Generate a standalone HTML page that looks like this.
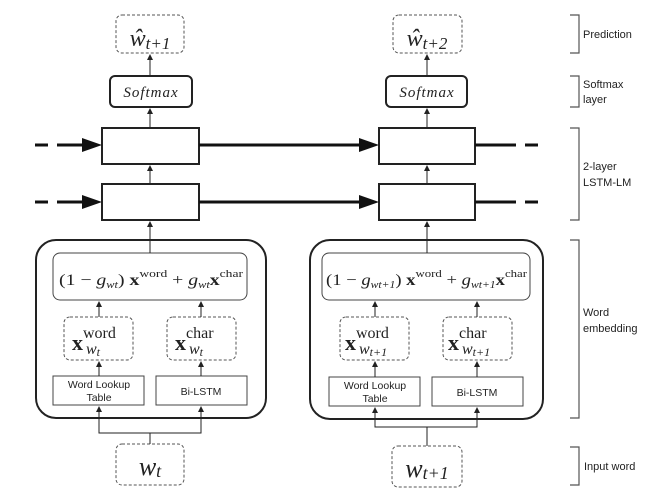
<!DOCTYPE html>
<html><head><meta charset="utf-8"><style>
body{margin:0;background:#fff;width:669px;height:499px;overflow:hidden}
svg{display:block}
.m{font-family:"Liberation Serif",serif;fill:#222}
.s{font-family:"Liberation Sans",sans-serif;fill:#222}
</style></head><body>
<svg width="669" height="499" viewBox="0 0 669 499">
<defs>
<marker id="a" markerWidth="6" markerHeight="6" refX="5" refY="3" orient="auto"><path d="M0,0 L6,3 L0,6z" fill="#222"/></marker>
</defs>
<g stroke="#222" fill="none">
<rect x="116" y="15" width="68" height="38" rx="6" stroke-dasharray="3,2" stroke="#555"/>
<rect x="110" y="76" width="82" height="31" rx="5" stroke-width="2"/>
<rect x="102" y="128" width="97" height="36" stroke-width="2"/>
<rect x="102" y="184" width="97" height="36" stroke-width="2"/>
<rect x="36" y="240" width="230" height="178" rx="20" stroke-width="2"/>
<rect x="53" y="253" width="194" height="47" rx="7" stroke="#444"/>
<rect x="64" y="317" width="69" height="43" rx="6" stroke-dasharray="3,2" stroke="#555"/>
<rect x="167" y="317" width="69" height="43" rx="6" stroke-dasharray="3,2" stroke="#555"/>
<rect x="53" y="376" width="91" height="29" stroke="#444"/>
<rect x="156" y="376" width="91" height="29" stroke="#444"/>
<rect x="116" y="444" width="68" height="41" rx="6" stroke-dasharray="3,2" stroke="#555"/>
<line x1="150" y1="76" x2="150" y2="55" marker-end="url(#a)"/>
<line x1="150" y1="128" x2="150" y2="109" marker-end="url(#a)"/>
<line x1="150" y1="184" x2="150" y2="166" marker-end="url(#a)"/>
<line x1="150" y1="253" x2="150" y2="222" marker-end="url(#a)"/>
<line x1="99" y1="317" x2="99" y2="302" marker-end="url(#a)"/>
<line x1="201" y1="317" x2="201" y2="302" marker-end="url(#a)"/>
<line x1="99" y1="376" x2="99" y2="362" marker-end="url(#a)"/>
<line x1="201" y1="376" x2="201" y2="362" marker-end="url(#a)"/>
<polyline points="150,444 150,433 99,433 99,407" marker-end="url(#a)"/>
<polyline points="150,433 201,433 201,407" marker-end="url(#a)"/>
</g>
<g stroke="#222" fill="none">
<rect x="393" y="15" width="69" height="38" rx="6" stroke-dasharray="3,2" stroke="#555"/>
<rect x="386" y="76" width="81" height="31" rx="5" stroke-width="2"/>
<rect x="379" y="128" width="96" height="36" stroke-width="2"/>
<rect x="379" y="184" width="96" height="36" stroke-width="2"/>
<rect x="310" y="240" width="233" height="179" rx="20" stroke-width="2"/>
<rect x="322" y="253" width="208" height="47" rx="7" stroke="#444"/>
<rect x="340" y="317" width="69" height="43" rx="6" stroke-dasharray="3,2" stroke="#555"/>
<rect x="443" y="317" width="69" height="43" rx="6" stroke-dasharray="3,2" stroke="#555"/>
<rect x="329" y="377" width="91" height="29" stroke="#444"/>
<rect x="432" y="377" width="91" height="29" stroke="#444"/>
<rect x="392" y="446" width="70" height="41" rx="6" stroke-dasharray="3,2" stroke="#555"/>
<line x1="427" y1="76" x2="427" y2="55" marker-end="url(#a)"/>
<line x1="427" y1="128" x2="427" y2="109" marker-end="url(#a)"/>
<line x1="427" y1="184" x2="427" y2="166" marker-end="url(#a)"/>
<line x1="427" y1="253" x2="427" y2="222" marker-end="url(#a)"/>
<line x1="375" y1="317" x2="375" y2="302" marker-end="url(#a)"/>
<line x1="477" y1="317" x2="477" y2="302" marker-end="url(#a)"/>
<line x1="375" y1="377" x2="375" y2="362" marker-end="url(#a)"/>
<line x1="477" y1="377" x2="477" y2="362" marker-end="url(#a)"/>
<polyline points="427,446 427,427 375,427 375,408" marker-end="url(#a)"/>
<polyline points="427,427 477,427 477,408" marker-end="url(#a)"/>
</g>
<g stroke="#111" stroke-width="3" fill="none">
<line x1="35" y1="145" x2="48" y2="145"/><line x1="57" y1="145" x2="85" y2="145"/>
<line x1="35" y1="202" x2="48" y2="202"/><line x1="57" y1="202" x2="85" y2="202"/>
<line x1="199" y1="145" x2="362" y2="145"/>
<line x1="199" y1="202" x2="362" y2="202"/>
<line x1="475" y1="145" x2="516" y2="145"/><line x1="525" y1="145" x2="538" y2="145"/>
<line x1="475" y1="202" x2="516" y2="202"/><line x1="525" y1="202" x2="538" y2="202"/>
</g>
<g fill="#111">
<path d="M82,138 L102,145 L82,152z"/><path d="M82,195 L102,202 L82,209z"/>
<path d="M359,138 L379,145 L359,152z"/><path d="M359,195 L379,202 L359,209z"/>
</g>
<g stroke="#555" fill="none" stroke-width="1.2">
<polyline points="570,15 579,15 579,53 570,53"/>
<polyline points="570,76 579,76 579,107 570,107"/>
<polyline points="570,128 579,128 579,220 570,220"/>
<polyline points="570,240 579,240 579,418 570,418"/>
<polyline points="570,447 579,447 579,485 570,485"/>
</g>
<g class="s" font-size="11">
<text x="583" y="38">Prediction</text>
<text x="583" y="88">Softmax</text><text x="583" y="103">layer</text>
<text x="583" y="170">2-layer</text><text x="583" y="186">LSTM-LM</text>
<text x="583" y="316">Word</text><text x="583" y="332">embedding</text>
<text x="584" y="470">Input word</text>
</g>
<g class="s" font-size="10.5" text-anchor="middle">
<text x="99" y="388">Word Lookup</text><text x="99" y="401">Table</text>
<text x="201" y="395">Bi-LSTM</text>
<text x="375" y="389">Word Lookup</text><text x="375" y="402">Table</text>
<text x="477" y="396">Bi-LSTM</text>
</g>
<g class="m">
<text x="150" y="46" font-size="24" text-anchor="middle" font-style="italic">ŵ<tspan font-size="17" dy="3">t+1</tspan></text>
<text x="427" y="46" font-size="24" text-anchor="middle" font-style="italic">ŵ<tspan font-size="17" dy="3">t+2</tspan></text>
<text x="151" y="97" font-size="15" text-anchor="middle" font-style="italic" letter-spacing="1">Softmax</text>
<text x="427" y="97" font-size="15" text-anchor="middle" font-style="italic" letter-spacing="1">Softmax</text>
<text x="150" y="475" font-size="26" text-anchor="middle" font-style="italic">w<tspan font-size="18" dy="2">t</tspan></text>
<text x="427" y="477" font-size="26" text-anchor="middle" font-style="italic">w<tspan font-size="18" dy="2">t+1</tspan></text>
<text x="59" y="285" font-size="16" textLength="184" lengthAdjust="spacingAndGlyphs">(1 − <tspan font-style="italic">g</tspan><tspan font-size="10" font-style="italic" dy="3">wt</tspan><tspan dy="-3">) </tspan><tspan font-weight="bold">x</tspan><tspan font-size="11" dy="-8">word</tspan><tspan dy="8"> + </tspan><tspan font-style="italic">g</tspan><tspan font-size="10" font-style="italic" dy="3">wt</tspan><tspan font-weight="bold" dy="-3">x</tspan><tspan font-size="11" dy="-8">char</tspan></text>
<text x="326" y="285" font-size="16" textLength="201" lengthAdjust="spacingAndGlyphs">(1 − <tspan font-style="italic">g</tspan><tspan font-size="10" font-style="italic" dy="3">wt+1</tspan><tspan dy="-3">) </tspan><tspan font-weight="bold">x</tspan><tspan font-size="11" dy="-8">word</tspan><tspan dy="8"> + </tspan><tspan font-style="italic">g</tspan><tspan font-size="10" font-style="italic" dy="3">wt+1</tspan><tspan font-weight="bold" dy="-3">x</tspan><tspan font-size="11" dy="-8">char</tspan></text>
<text x="72" y="350" font-size="22" font-weight="bold">x<tspan font-weight="normal" font-size="16" dy="-12">word</tspan></text>
<text x="86" y="354" font-size="16" font-style="italic">w<tspan font-size="12" dy="2">t</tspan></text>
<text x="175" y="350" font-size="22" font-weight="bold">x<tspan font-weight="normal" font-size="16" dy="-12">char</tspan></text>
<text x="189" y="354" font-size="16" font-style="italic">w<tspan font-size="12" dy="2">t</tspan></text>
<text x="345" y="350" font-size="22" font-weight="bold">x<tspan font-weight="normal" font-size="16" dy="-12">word</tspan></text>
<text x="359" y="354" font-size="16" font-style="italic">w<tspan font-size="12" dy="2">t+1</tspan></text>
<text x="448" y="350" font-size="22" font-weight="bold">x<tspan font-weight="normal" font-size="16" dy="-12">char</tspan></text>
<text x="462" y="354" font-size="16" font-style="italic">w<tspan font-size="12" dy="2">t+1</tspan></text>
</g>
</svg>
</body></html>
